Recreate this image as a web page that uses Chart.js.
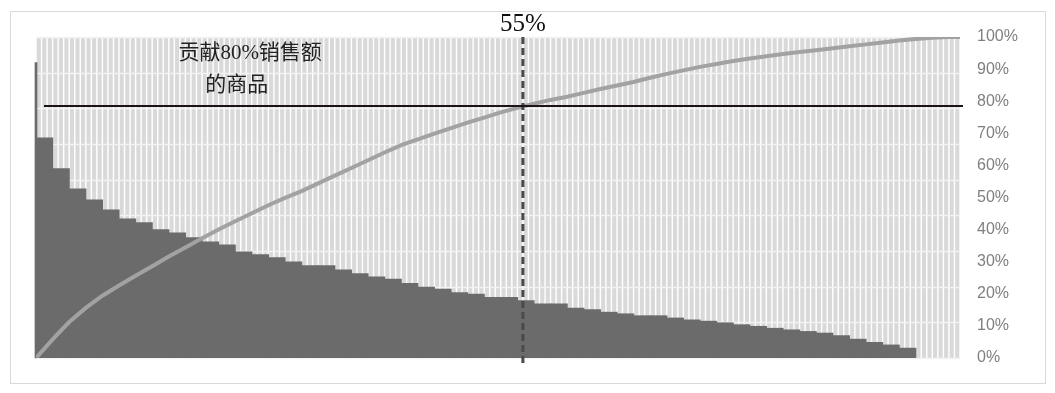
<!DOCTYPE html>
<html>
<head>
<meta charset="utf-8">
<script src="https://cdn.jsdelivr.net/npm/chart.js@4/dist/chart.umd.min.js"></script>
<style>
  html, body { margin: 0; padding: 0; background: #ffffff; }
  #c { display: block; }
</style>
</head>
<body>
<canvas id="c" width="1055" height="393"></canvas>
<script>
// ---------- data ----------
const stripeCount = 167;                 // background categories (light stripes)
const stripeValue = 100;                 // every stripe fills the whole height (%)
// per-product share (dark stepped bars), read on the right % axis
const productShare = [
  68.5, 58.9, 52.6, 49.2, 46.1, 43.3, 42.1, 39.9, 38.9, 37.4,
  36.1, 35.2, 33.0, 32.1, 31.2, 29.9, 28.7, 28.7, 27.4, 26.2,
  25.2, 24.5, 23.2, 22.0, 21.4, 20.3, 19.8, 18.8, 18.8, 17.8,
  16.8, 16.8, 15.5, 15.0, 14.2, 13.7, 13.1, 13.1, 12.4, 11.8,
  11.4, 10.9, 10.3, 9.8, 9.2, 8.7, 8.2, 7.7, 6.9, 5.8,
  4.8, 4.0, 3.0
];
const stripesPerProduct = 3;
const leadBarValue = 92;                 // thin leading bar at the left edge
// cumulative percentage line: positions (stripe index) and values
const cumulativeX = [
  0, 3, 6, 9, 12, 15, 18, 21, 24, 27, 30, 33, 36, 39, 42, 45, 48, 51, 54, 57,
  60, 63, 66, 69, 72, 75, 78, 81, 84, 87, 90, 93, 96, 99, 102, 105, 108, 111, 114, 117,
  120, 123, 126, 129, 132, 135, 138, 141, 144, 147, 150, 153, 156, 159, 162, 165, 167
];
const cumulativePct = [
  0, 5.8, 11.2, 15.6, 19.4, 22.6, 25.6, 28.6, 31.6, 34.4,
  37.3, 40.0, 42.6, 45.1, 47.6, 49.9, 52.0, 54.4, 56.8, 59.2,
  61.6, 64.0, 66.3, 68.1, 69.9, 71.6, 73.3, 74.9, 76.5, 77.9,
  79.2, 80.4, 81.4, 82.6, 83.8, 84.9, 86.0, 87.3, 88.5, 89.6,
  90.7, 91.6, 92.5, 93.3, 94.0, 94.7, 95.3, 95.9, 96.5, 97.1,
  97.7, 98.3, 98.9, 99.4, 99.8, 100, 100
];
const rightTickMax = 100, rightTickStep = 10;
const leftGridMax = 90, leftGridStep = 10;     // primary axis (gridlines only)
const cutoffStripe = 88;                       // 55% of products
const cutoffLabel = '55%';
const thresholdPct = 78.5;                     // "80%" reference line level
const noteLines = ['贡献80%销售额', '的商品'];

// ---------- build datasets ----------
const stripeData = [];
for (let i = 0; i < stripeCount; i++) stripeData.push({ x: i + 0.5, y: stripeValue });
const productData = productShare.map((v, i) => ({ x: i * stripesPerProduct + stripesPerProduct / 2, y: v }));
const lineData = cumulativeX.map((x, i) => ({ x: x, y: cumulativePct[i] }));

const gridPlugin = {
  id: 'whiteGrid',
  beforeDatasetDraw(chart, args) {
    if (chart.data.datasets[args.index].id !== 'products') return;
    const yL = chart.scales.yL;
    const { left, right } = chart.chartArea;
    const ctx = chart.ctx;
    ctx.save();
    ctx.strokeStyle = '#f3f3f3';
    ctx.lineWidth = 1.5;
    yL.ticks.forEach(t => {
      const y = Math.round(yL.getPixelForValue(t.value)) + 0.5;
      ctx.beginPath();
      ctx.moveTo(left, y);
      ctx.lineTo(right, y);
      ctx.stroke();
    });
    ctx.restore();
  }
};

const framePlugin = {
  id: 'frame',
  beforeDraw(chart) {
    const ctx = chart.ctx;
    ctx.save();
    ctx.fillStyle = '#ffffff';
    ctx.fillRect(0, 0, chart.width, chart.height);
    ctx.strokeStyle = '#d9d9d9';
    ctx.lineWidth = 1;
    ctx.strokeRect(10.5, 11.5, 1035, 372);
    ctx.restore();
  }
};

const notePlugin = {
  id: 'notes',
  afterDatasetsDraw(chart) {
    const ctx = chart.ctx;
    const xs = chart.scales.x, ys = chart.scales.y;
    const { top, bottom, left, right } = chart.chartArea;
    ctx.save();
    // dashed cutoff line
    const cx = xs.getPixelForValue(cutoffStripe);
    ctx.strokeStyle = '#4a4a4a';
    ctx.lineWidth = 3;
    ctx.setLineDash([7, 4]);
    ctx.beginPath();
    ctx.moveTo(cx, top);
    ctx.lineTo(cx, bottom + 5);
    ctx.stroke();
    ctx.setLineDash([]);
    // threshold line
    const ty = ys.getPixelForValue(thresholdPct);
    ctx.strokeStyle = '#1c1414';
    ctx.lineWidth = 2;
    ctx.beginPath();
    ctx.moveTo(left + 8, ty);
    ctx.lineTo(right + 3, ty);
    ctx.stroke();
    // cutoff label
    ctx.fillStyle = '#111111';
    ctx.textAlign = 'center';
    ctx.textBaseline = 'middle';
    ctx.font = '25px "Liberation Serif", "DejaVu Serif", serif';
    ctx.fillText(cutoffLabel, cx, top - 13);
    // note text
    ctx.fillStyle = '#222222';
    ctx.font = '21px "Liberation Serif", "Noto Sans CJK SC", serif';
    ctx.fillText(noteLines[0], xs.getPixelForValue(38.7), ys.getPixelForValue(95));
    ctx.fillText(noteLines[1], xs.getPixelForValue(36.3), ys.getPixelForValue(85));
    ctx.restore();
  }
};

new Chart(document.getElementById('c'), {
  type: 'bar',
  data: {
    datasets: [
      {
        id: 'cumulative', type: 'line', data: lineData, xAxisID: 'x', yAxisID: 'y',
        borderColor: '#a2a2a2', borderWidth: 4, pointRadius: 0, tension: 0, fill: false, order: 0
      },
      {
        id: 'lead', type: 'bar', data: [{ x: 0, y: leadBarValue }], xAxisID: 'x3', yAxisID: 'y',
        backgroundColor: '#6b6b6b', barThickness: 2, grouped: false, order: 1, clip: false
      },
      {
        id: 'products', type: 'bar', data: productData, xAxisID: 'x2', yAxisID: 'y',
        backgroundColor: '#6b6b6b', borderWidth: 0, barPercentage: 1.0, categoryPercentage: 1.0,
        grouped: false, inflateAmount: 0.6, order: 2
      },
      {
        id: 'stripes', type: 'bar', data: stripeData, xAxisID: 'x', yAxisID: 'y',
        backgroundColor: '#d9d9d9', borderWidth: 0, barPercentage: 0.74, categoryPercentage: 1,
        grouped: false, order: 3
      }
    ]
  },
  options: {
    responsive: false,
    animation: false,
    devicePixelRatio: 1,
    layout: { padding: { left: 36, top: 37, bottom: 35, right: 0 } },
    plugins: { legend: { display: false }, tooltip: { enabled: false } },
    scales: {
      x:  { type: 'linear', min: 0, max: stripeCount, offset: false, display: false,
            ticks: { maxTicksLimit: 2 } },
      x2: { type: 'linear', min: 0, max: stripeCount, offset: false, display: false,
            ticks: { maxTicksLimit: 2 } },
      x3: { type: 'linear', min: 0, max: stripeCount, offset: false, display: false,
            ticks: { maxTicksLimit: 2 } },
      yL: { type: 'linear', position: 'left', min: 0, max: leftGridMax, display: false,
            ticks: { stepSize: leftGridStep } },
      y:  { type: 'linear', position: 'right', min: 0, max: rightTickMax,
            grid: { display: false, drawTicks: false }, border: { display: false },
            ticks: { stepSize: rightTickStep, padding: 17, color: '#7f7f7f',
                     font: { family: '"Liberation Sans", Arial, sans-serif', size: 16 },
                     callback: v => v + '%' },
            afterFit: s => { s.width = 95; } }
    }
  },
  plugins: [framePlugin, gridPlugin, notePlugin]
});
</script>
</body>
</html>
